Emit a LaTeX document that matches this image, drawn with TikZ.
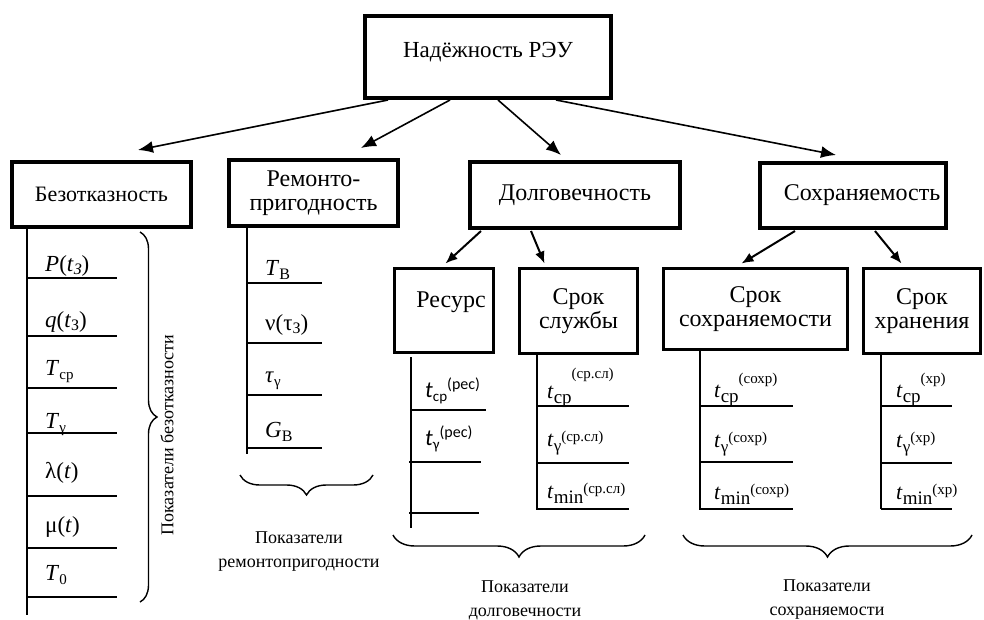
\documentclass[tikz,border=0pt]{standalone}
\usepackage{fontspec}
\setmainfont{Liberation Serif}
\newfontfamily\calfont{Carlito}
\usetikzlibrary{arrows.meta,decorations.pathreplacing,calc}

% lowered / raised index: shift, size, text
\newcommand\lw[3]{\raisebox{-#1}{\fontsize{#2}{#2}\selectfont #3}}
\newcommand\hi[3]{\raisebox{#1}{\fontsize{#2}{#2}\selectfont #3}}

\begin{document}
\begin{tikzpicture}[x=1pt,y=-1pt,
  box/.style={draw,line width=4pt,rectangle,align=center,inner sep=0pt,
    font=\fontsize{24}{24}\selectfont},
  subbox/.style={box,line width=3pt},
  arr/.style={-{Latex[length=15pt,width=12pt]},line width=1.6pt},
  arrs/.style={-{Latex[length=12pt,width=10pt]},line width=2pt},
  stem/.style={line width=2pt},
  rung/.style={line width=1.4pt},
  val/.style={anchor=base west,inner sep=0pt,font=\fontsize{23}{23}\selectfont},
  vals/.style={val,font=\fontsize{22}{22}\selectfont},
  valc/.style={val,font=\calfont\fontsize{23}{23}\selectfont},
  capt/.style={align=center,inner sep=0pt,font=\fontsize{18}{24}\selectfont},
  brc/.style={decorate,line width=1.4pt}
]
\useasboundingbox (0,0) rectangle (984,620);

% ---- boxes ----
\node[box,minimum width=246pt,minimum height=82pt,font=\fontsize{23}{23}\selectfont] (top) at (488,57)
  {\raisebox{5pt}[\height][\depth]{Надёжность РЭУ}};

\node[box,minimum width=179pt,minimum height=65pt,font=\fontsize{22}{22}\selectfont] (bez) at (101.5,194.5) {Безотказность};
\node[box,minimum width=169pt,minimum height=66pt] (rem) at (313.5,193) {Ремонто-\\пригодность};
\node[box,minimum width=210pt,minimum height=66pt] (dolg) at (575,195) {Долговечность};
\node[box,minimum width=186pt,minimum height=65pt] (sohr) at (853,195.5) {\hspace*{18pt}Сохраняемость};

\node[subbox,minimum width=99pt,minimum height=84pt] (res) at (444,310.5)
  {\raisebox{8pt}[\height][\depth]{\hspace*{14pt}Ресурс}};
\node[subbox,minimum width=118pt,minimum height=85pt] (sluzh) at (578.5,311) {Срок\\службы};
\node[subbox,minimum width=184pt,minimum height=81pt] (srsohr) at (755.5,309) {Срок\\сохраняемости};
\node[subbox,minimum width=117pt,minimum height=85pt] (hran) at (922,311) {Срок\\хранения};

% ---- arrows ----
\draw[arr] ($(top.south west)+(25,0)$)  -- ($(bez.north west)+(128,-10)$);
\draw[arr] ($(top.south west)+(87,0)$)  -- ($(rem.north west)+(134,-10)$);
\draw[arr] ($(top.south west)+(135,0)$) -- ($(dolg.north west)+(93,-5)$);
\draw[arr] ($(top.south west)+(193,0)$) -- ($(sohr.north west)+(78,-6)$);

\draw[arrs] ($(dolg.south west)+(13,1)$)  -- ($(res.north west)+(52.5,-3.5)$);
\draw[arrs] ($(dolg.south west)+(63,1)$)  -- ($(sluzh.north west)+(26.5,-3.5)$);
\draw[arrs] ($(sohr.south west)+(37,1)$)  -- ($(srsohr.north west)+(79.5,-3.5)$);
\draw[arrs] ($(sohr.south west)+(117,1)$) -- ($(hran.north west)+(39.5,-3.5)$);

% ---- reliability indicators ----
\draw[stem] (27,229) -- (27,615);
\foreach \y in {278,336,388,433,496,548,597} \draw[rung] (27,\y) -- (117,\y);
\node[val] (b1) at (45,271) {\textit{P}(\textit{t}\lw{3pt}{16}{\textit{З}})};
\node[val] (b2) at (45,327) {\textit{q}(\textit{t}\lw{3pt}{16}{З})};
\node[val] (b3) at (45,375) {\textit{T}\lw{4pt}{15}{ср}};
\node[val] (b4) at (45,428) {\textit{T}\lw{4pt}{15}{γ}};
\node[val] (b5) at (45,478) {λ(\textit{t})};
\node[val] (b6) at (45,532) {μ(\textit{t})};
\node[val] (b7) at (45,580) {\textit{T}\lw{4pt}{15}{0}};
\draw[brc,decoration={brace,amplitude=17pt}] (140,232) -- (140,602);
\node[capt,rotate=90] (bezcap) at (167,435) {Показатели безотказности};

% ---- maintainability indicators ----
\draw[stem] (247,228) -- (247,454);
\foreach \y in {283,395,448} \draw[rung] (247,\y) -- (322,\y);
\draw[line width=2.4pt] (247,343) -- (322,343);
\node[val] (r1) at (265,275) {\textit{T}\lw{4pt}{16}{В}};
\node[val] (r2) at (265,330) {ν(τ\lw{3pt}{16}{З})};
\node[val] (r3) at (265,382) {\textit{τ}\lw{4pt}{15}{γ}};
\node[val] (r4) at (265,437) {\textit{G}\lw{4pt}{16}{В}};
\draw[brc,decoration={brace,amplitude=20pt}] (373,475) -- (240,475);
\node[capt] (remcap) at (299,552) {Показатели\\ремонтопригодности};

% ---- durability indicators ----
\draw[stem] (411,357) -- (411,528);
\draw[rung] (411,410) -- (486,410);
\draw[rung] (409,462) -- (481,462);
\draw[rung] (409,513) -- (479,513);
\node[valc] (s1) at (425,397) {\textit{t}\lw{4pt}{15}{ср}\hi{8pt}{16}{(рес)}};
\node[valc] (s2) at (425,445) {\textit{t}\lw{4pt}{15}{γ}\hi{8pt}{16}{(рес)}};

\draw[stem] (537,355) -- (537,510);
\foreach \y in {406,463,509} \draw[rung] (537,\y) -- (629,\y);
\node[vals] (c1) at (547,398) {\textit{t}\lw{5pt}{19}{ср}\hi{20pt}{15}{(ср.сл)}};
\node[vals] (c2) at (547,446) {\textit{t}\lw{5pt}{17}{γ}\hi{5pt}{15}{(ср.сл)}};
\node[vals] (c3) at (547,498) {\textit{t}\lw{5pt}{19}{min}\hi{5pt}{15}{(ср.сл)}};
\draw[brc,decoration={brace,amplitude=22pt}] (645,535) -- (393,535);
\node[capt] (dolgcap) at (525,600) {Показатели\\долговечности};

% ---- storability indicators ----
\draw[stem] (700,351) -- (700,510);
\foreach \y in {406,462,509} \draw[rung] (700,\y) -- (793,\y);
\node[vals] (h1) at (714,397) {\textit{t}\lw{5pt}{19}{ср}\hi{14pt}{15}{(сохр)}};
\node[vals] (h2) at (714,447) {\textit{t}\lw{5pt}{17}{γ}\hi{5pt}{15}{(сохр)}};
\node[vals] (h3) at (714,499) {\textit{t}\lw{5pt}{19}{min}\hi{5pt}{15}{(сохр)}};

\draw[stem] (881,355) -- (881,509);
\foreach \y in {406,463,509} \draw[rung] (881,\y) -- (952,\y);
\node[vals] (x1) at (896,397) {\textit{t}\lw{5pt}{19}{ср}\hi{14pt}{15}{(хр)}};
\node[vals] (x2) at (896,447) {\textit{t}\lw{5pt}{17}{γ}\hi{5pt}{15}{(хр)}};
\node[vals] (x3) at (896,499) {\textit{t}\lw{5pt}{19}{min}\hi{5pt}{15}{(хр)}};
\draw[brc,decoration={brace,amplitude=22pt}] (972,535) -- (683,535);
\node[capt] (sohrcap) at (827,600) {Показатели\\сохраняемости};
\end{tikzpicture}
\end{document}
